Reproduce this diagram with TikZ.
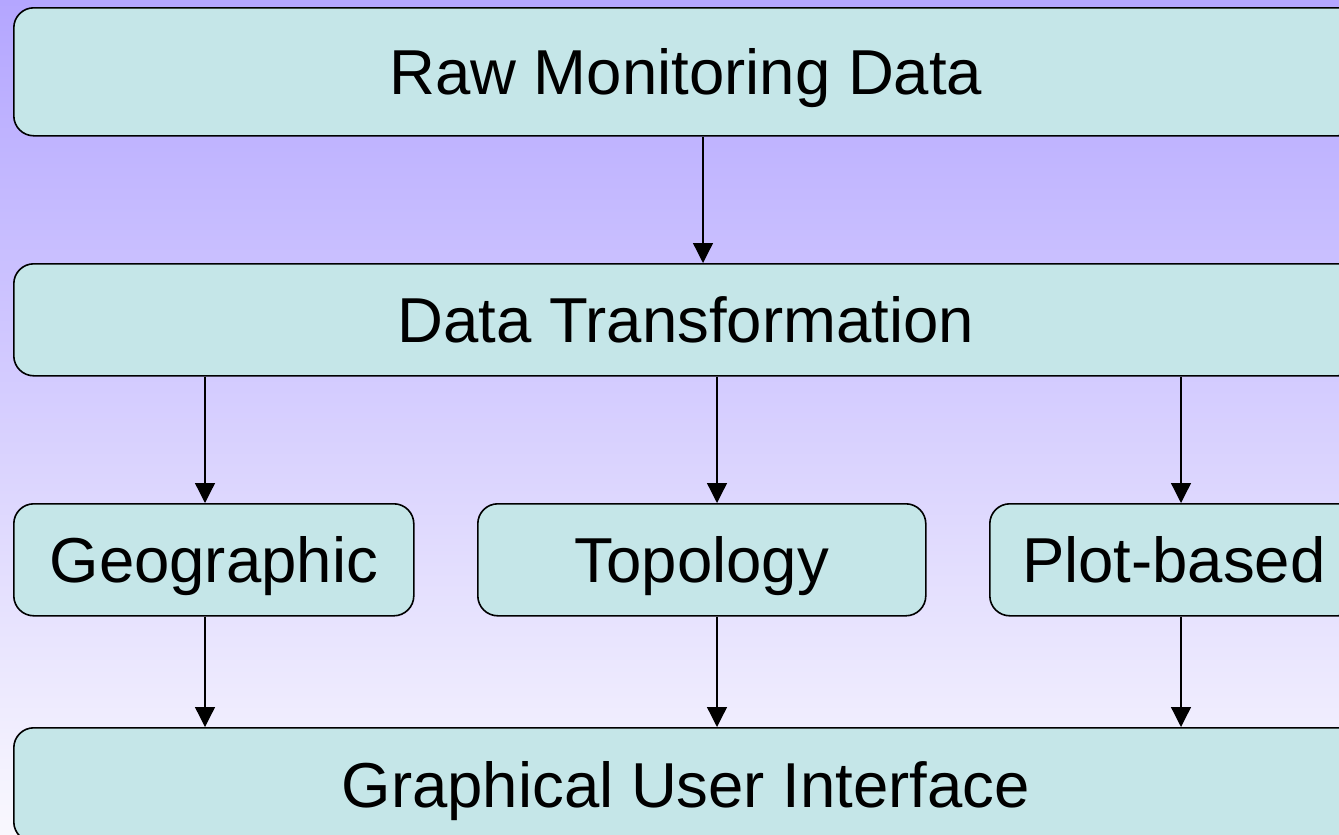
\documentclass[tikz,border=0pt]{standalone}
\usepackage{fontspec}
\setmainfont{Liberation Sans}
\usetikzlibrary{arrows.meta}
\definecolor{boxfill}{RGB}{197,230,232}
\definecolor{bgtop}{RGB}{180,166,255}
\definecolor{bgbottom}{RGB}{249,248,254}

\begin{document}
\begin{tikzpicture}
			[x=1pt,y=-1pt,
			%Styles
			stage/.style={draw,line width=1.6pt,rounded corners=20pt,fill=boxfill,
				inner sep=0pt,anchor=north west,minimum height=112pt,
				text height=45.5pt,text depth=0pt,
				font=\fontsize{63.5}{70}\selectfont},
			flow/.style={line width=1.3pt,-{Triangle[width=20pt,length=20pt]}}
			]
			
			%Page and background
			\useasboundingbox (0,0) rectangle (1339,835);
			\clip (0,0) rectangle (1339,835);
			\shade[top color=bgtop,bottom color=bgbottom] (0,0) rectangle (1339,835);
			
			%The graphic
			\node[stage,minimum width=1344pt,minimum height=128pt] (raw) at (13,7) {Raw Monitoring Data};
			\node[stage,minimum width=1344pt] (dt) at (13,263) {Data Transformation};
			\node[stage,minimum width=400pt] (geo) at (13,503) {Geographic};
			\node[stage,minimum width=448pt] (topo) at (477,503) {Topology};
			\node[stage,minimum width=368pt] (plot) at (989,503) {Plot-based};
			\node[stage,minimum width=1344pt,minimum height=114pt] (gui) at (13,727) {Graphical User Interface};
			
			\draw[flow] (raw.south -| 703,0) -- (dt.north -| 703,0);
			\foreach \x/\n in {205/geo,717/topo,1181/plot} {
				\draw[flow] (dt.south -| \x,0) -- (\n.north -| \x,0);
				\draw[flow] (\n.south -| \x,0) -- (gui.north -| \x,0);
			}
		\end{tikzpicture}
\end{document}
